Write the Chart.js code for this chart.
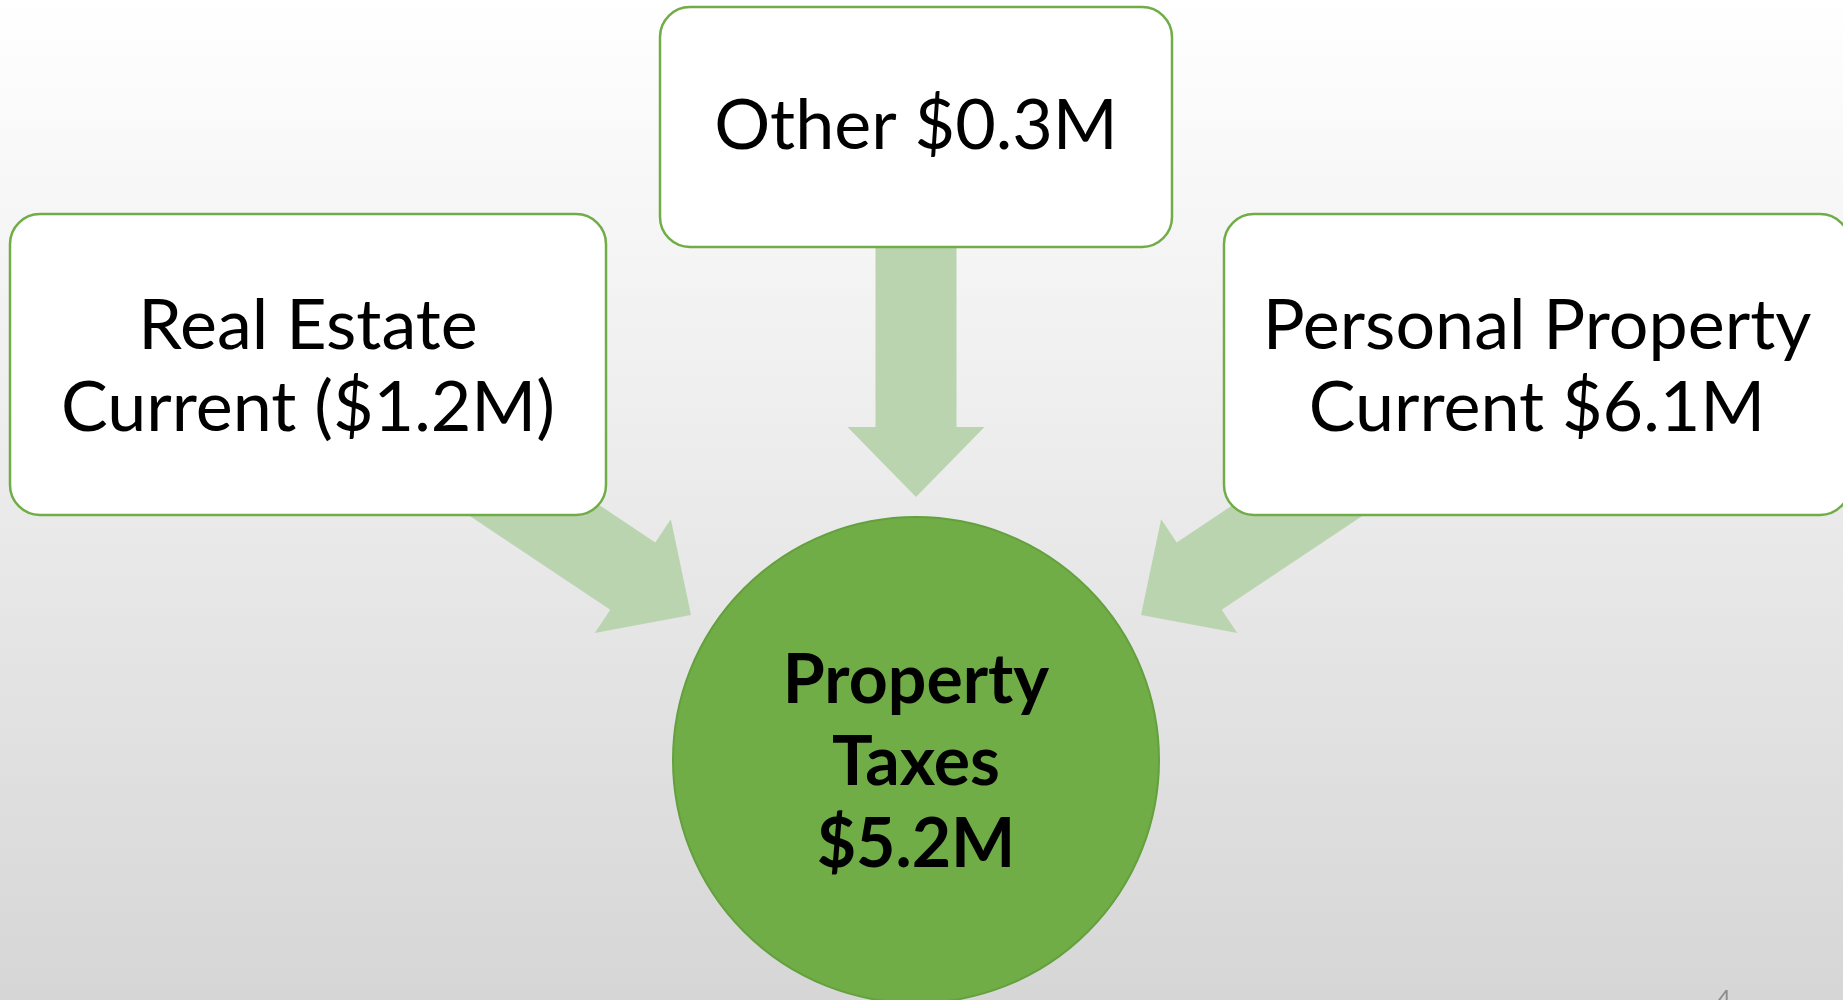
<!DOCTYPE html>
<html>
<head>
<meta charset="utf-8">
<script src="https://cdn.jsdelivr.net/npm/chart.js@4"></script>
<style>
  html, body { margin: 0; padding: 0; background: #ffffff; overflow: hidden; }
  #wrap { width: 1843px; height: 1000px; }
</style>
</head>
<body>
<div id="wrap"><canvas id="c" width="1843" height="1000"></canvas></div>
<script>
// ---------- DATA ----------
const sourceNames = ['Real Estate Current', 'Other', 'Personal Property Current'];
const sourceLines = [['Real Estate', 'Current'], ['Other'], ['Personal Property', 'Current']];
const sourceValues = [-1.2, 0.3, 6.1];            // $M
const totalLines = ['Property', 'Taxes'];
const totalValue = 5.2;                            // $M
const pageNumber = '4';

// ---------- LAYOUT (chart units = pixels of a 1843x1000 slide) ----------
const boxRects = [[10, 214, 606, 515], [660, 7, 1172, 247], [1224, 214, 1850, 515]];
const arrowTails = [[441, 448], [916, 200], [1391, 448]];
const arrowTips = [[691, 615], [916, 497], [1141, 615]];
const circleCenter = [916, 760];
const circleRadius = 243;

const GREEN = '#70ad47';
const ARROW = '#bbd4b0';
const FONT = 'Lato, "Open Sans", sans-serif';

function fmt(v) {
  const s = '$' + Math.abs(v).toFixed(1) + 'M';
  return v < 0 ? '(' + s + ')' : s;
}

function roundRect(ctx, x0, y0, x1, y1, r) {
  ctx.beginPath();
  ctx.moveTo(x0 + r, y0);
  ctx.lineTo(x1 - r, y0);
  ctx.arcTo(x1, y0, x1, y0 + r, r);
  ctx.lineTo(x1, y1 - r);
  ctx.arcTo(x1, y1, x1 - r, y1, r);
  ctx.lineTo(x0 + r, y1);
  ctx.arcTo(x0, y1, x0, y1 - r, r);
  ctx.lineTo(x0, y0 + r);
  ctx.arcTo(x0, y0, x0 + r, y0, r);
  ctx.closePath();
}

function drawLines(ctx, lines, cx, cy, font, pitch) {
  ctx.font = font;
  ctx.fillStyle = '#000000';
  ctx.textAlign = 'center';
  ctx.textBaseline = 'alphabetic';
  const cap = ctx.measureText('H').actualBoundingBoxAscent;
  const n = lines.length;
  lines.forEach((t, i) => {
    const base = cy + (i - (n - 1) / 2) * pitch + cap / 2;
    ctx.fillText(t, cx, base);
  });
}

const diagramPlugin = {
  id: 'diagram',
  beforeDraw(chart) {
    const ctx = chart.ctx;
    const g = ctx.createLinearGradient(0, 0, 0, chart.height);
    g.addColorStop(0, '#ffffff');
    g.addColorStop(1, '#d6d6d6');
    ctx.save();
    ctx.fillStyle = g;
    ctx.fillRect(0, 0, chart.width, chart.height);
    ctx.restore();
  },
  beforeDatasetsDraw(chart) {
    const ctx = chart.ctx;
    const xs = chart.scales.x, ys = chart.scales.y;
    const X = v => xs.getPixelForValue(v), Y = v => ys.getPixelForValue(v);
    ctx.save();
    // arrows
    const hw = 40.5, hh = 68.5, hl = 70;
    sourceValues.forEach((v, i) => {
      const tx = X(arrowTails[i][0]), ty = Y(arrowTails[i][1]);
      const px = X(arrowTips[i][0]), py = Y(arrowTips[i][1]);
      const len = Math.hypot(px - tx, py - ty);
      const dx = (px - tx) / len, dy = (py - ty) / len;
      const nx = -dy, ny = dx;
      const kx = px - dx * hl, ky = py - dy * hl;
      ctx.beginPath();
      ctx.moveTo(tx + nx * hw, ty + ny * hw);
      ctx.lineTo(kx + nx * hw, ky + ny * hw);
      ctx.lineTo(kx + nx * hh, ky + ny * hh);
      ctx.lineTo(px, py);
      ctx.lineTo(kx - nx * hh, ky - ny * hh);
      ctx.lineTo(kx - nx * hw, ky - ny * hw);
      ctx.lineTo(tx - nx * hw, ty - ny * hw);
      ctx.closePath();
      ctx.fillStyle = ARROW;
      ctx.fill();
    });
    // boxes
    sourceValues.forEach((v, i) => {
      const r = boxRects[i];
      roundRect(ctx, X(r[0]), Y(r[1]), X(r[2]), Y(r[3]), 30);
      ctx.fillStyle = '#ffffff';
      ctx.fill();
      ctx.lineWidth = 2.5;
      ctx.strokeStyle = GREEN;
      ctx.stroke();
    });
    ctx.restore();
  },
  afterDatasetsDraw(chart) {
    const ctx = chart.ctx;
    const xs = chart.scales.x, ys = chart.scales.y;
    const X = v => xs.getPixelForValue(v), Y = v => ys.getPixelForValue(v);
    ctx.save();
    sourceValues.forEach((v, i) => {
      const r = boxRects[i];
      const lines = sourceLines[i].slice();
      lines[lines.length - 1] += ' ' + fmt(v);
      const cy = (Y(r[1]) + Y(r[3])) / 2 - (lines.length === 1 ? 3 : 0);
      drawLines(ctx, lines, (X(r[0]) + X(r[2])) / 2, cy, '70px ' + FONT, 82);
    });
    const tl = totalLines.concat([fmt(totalValue)]);
    drawLines(ctx, tl, X(circleCenter[0]), Y(circleCenter[1]), 'bold 68px ' + FONT, 82);
    // page number
    ctx.font = '24px ' + FONT;
    ctx.fillStyle = '#8c8c8c';
    ctx.textAlign = 'center';
    ctx.textBaseline = 'top';
    ctx.fillText(pageNumber, X(1724), Y(987));
    ctx.restore();
  }
};

new Chart(document.getElementById('c'), {
  type: 'scatter',
  data: {
    datasets: [{
      label: totalLines.join(' '),
      data: [{ x: circleCenter[0], y: circleCenter[1] }],
      pointRadius: circleRadius,
      pointHoverRadius: circleRadius,
      backgroundColor: GREEN,
      borderColor: '#64a03e',
      borderWidth: 2,
      clip: false
    }]
  },
  options: {
    responsive: false,
    animation: false,
    devicePixelRatio: 1,
    layout: { padding: 0, autoPadding: false },
    plugins: { legend: { display: false }, tooltip: { enabled: false } },
    events: [],
    scales: {
      x: { type: 'linear', min: 0, max: 1843, display: false },
      y: { type: 'linear', min: 0, max: 1000, reverse: true, display: false }
    }
  },
  plugins: [diagramPlugin]
});
</script>
</body>
</html>
